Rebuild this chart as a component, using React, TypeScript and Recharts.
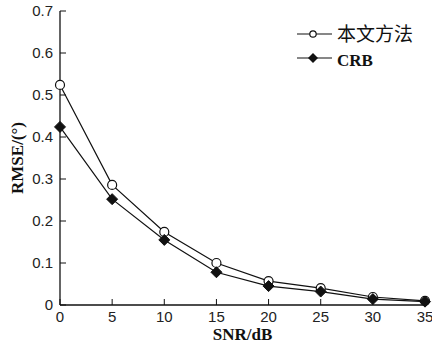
import React from 'react';
import { LineChart, Line, XAxis, YAxis, Customized } from 'recharts';

const snr = [0, 5, 10, 15, 20, 25, 30, 35];
const proposed = [0.524, 0.286, 0.174, 0.1, 0.057, 0.04, 0.019, 0.01];
const crb = [0.424, 0.252, 0.155, 0.078, 0.045, 0.032, 0.014, 0.008];
const xTicks = [0, 5, 10, 15, 20, 25, 30, 35];
const yTicks = [0, 0.1, 0.2, 0.3, 0.4, 0.5, 0.6, 0.7];
const seriesNames = ['本文方法', 'CRB'];

const data = snr.map((s, i) => ({ snr: s, a: proposed[i], b: crb[i] }));

const Circle = (props: any) => {
  const { cx, cy } = props;
  return <circle cx={cx} cy={cy} r={4.5} fill="#fff" stroke="#111" strokeWidth={1.2} />;
};
const Diamond = (props: any) => {
  const { cx, cy } = props;
  const s = 5.5;
  return (
    <polygon
      points={`${cx},${cy - s} ${cx + s},${cy} ${cx},${cy + s} ${cx - s},${cy}`}
      fill="#111"
      stroke="#111"
    />
  );
};

const LegendBox = () => (
  <g transform="translate(294,22)">
    <line x1={3} y1={12} x2={38} y2={12} stroke="#111" strokeWidth={1.2} />
    <circle cx={19} cy={12} r={3.2} fill="#fff" stroke="#111" strokeWidth={1.2} />
    <text x={43} y={19} fontFamily="'Noto Sans CJK SC', serif" fontSize={19} fill="#111">{seriesNames[0]}</text>
    <line x1={3} y1={36} x2={38} y2={36} stroke="#111" strokeWidth={1.2} />
    <polygon points="19,31 24,36 19,41 14,36" fill="#111" />
    <text x={43} y={44} fontFamily="'Liberation Serif', serif" fontWeight="bold" fontSize={17} fill="#111">{seriesNames[1]}</text>
  </g>
);

const tickStyle = { fontFamily: "'Liberation Sans', Arial, sans-serif", fontSize: 15, fill: '#222' };

export default function App() {
  return (
    <div style={{ position: 'absolute', left: 0, top: 0, width: 432, height: 344, background: '#fff' }}>
      <LineChart width={432} height={344} data={data} margin={{ top: 11, right: 7, left: 0, bottom: 0 }}>
        <XAxis
          xAxisId="b"
          dataKey="snr"
          type="number"
          domain={[0, 35]}
          ticks={xTicks}
          height={39}
          tickSize={-6}
          tickMargin={12}
          tick={tickStyle}
          stroke="#111"
          axisLine={{ stroke: '#111', strokeWidth: 1.3 }}
          tickLine={{ stroke: '#111' }}
          interval={0}
          label={{ value: 'SNR/dB', position: 'insideBottom', offset: 4, style: { fontFamily: "'Liberation Serif', serif", fontWeight: 'bold', fontSize: 17, fill: '#111' } }}
        />
        <XAxis xAxisId="t" dataKey="snr" type="number" domain={[0, 35]} orientation="top" height={0} tick={false} tickLine={false} axisLine={{ stroke: '#111', strokeWidth: 1.3 }} />
        <YAxis
          yAxisId="l"
          type="number"
          domain={[0, 0.7]}
          ticks={yTicks}
          width={60}
          tickSize={-6}
          tickMargin={13}
          tick={tickStyle}
          stroke="#111"
          axisLine={{ stroke: '#111', strokeWidth: 1.3 }}
          tickLine={{ stroke: '#111' }}
          interval={0}
          label={{ value: 'RMSE/(°)', angle: -90, position: 'insideLeft', offset: 17, style: { textAnchor: 'middle', fontFamily: "'Liberation Serif', serif", fontWeight: 'bold', fontSize: 17, fill: '#111' } }}
        />
        <YAxis yAxisId="r" type="number" domain={[0, 0.7]} orientation="right" width={0} tick={false} tickLine={false} axisLine={{ stroke: '#111', strokeWidth: 1.3 }} />
        <Line xAxisId="b" yAxisId="l" dataKey="a" name={seriesNames[0]} stroke="#111" strokeWidth={1.2} dot={<Circle />} isAnimationActive={false} />
        <Line xAxisId="b" yAxisId="l" dataKey="b" name={seriesNames[1]} stroke="#111" strokeWidth={1.2} dot={<Diamond />} isAnimationActive={false} />
        <Customized component={LegendBox} />
      </LineChart>
    </div>
  );
}
